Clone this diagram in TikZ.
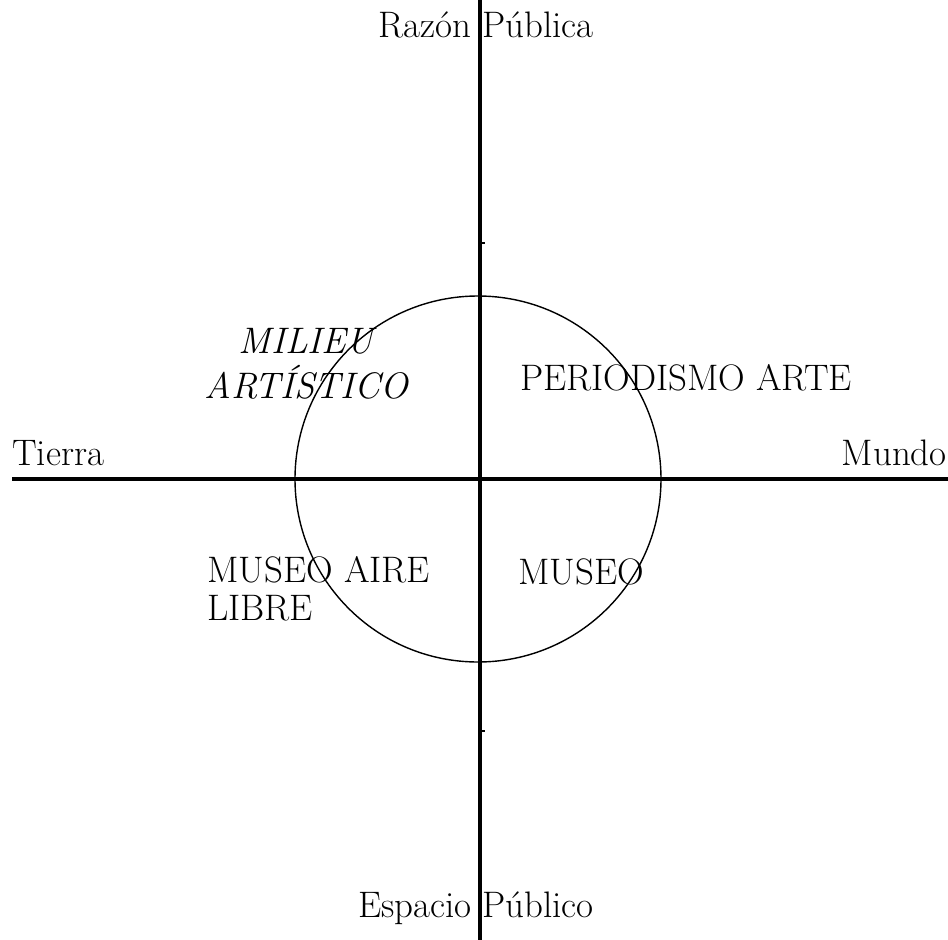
\documentclass[tikz,border=0pt]{standalone}
\begin{document}
\begin{tikzpicture}[x=0.02cm, y=-0.02cm,
    lbl/.style={font=\fontsize{21}{25}\selectfont, inner sep=0pt, anchor=base}]
    \useasboundingbox (0,0) rectangle (948,940);
    % Assen
    \coordinate (top) at (480,0);
    \coordinate (bottom) at (480,940);
    \coordinate (left) at (12,479);
    \coordinate (right) at (948,479);
    \draw[line width=2.8pt] (top) -- (bottom);
    \draw[line width=2.2pt] (left) -- (right);
    \draw[line width=1pt] (481,243) -- (485,243);
    \draw[line width=1pt] (481,731) -- (485,731);

    % Cirkel
    \coordinate (mid) at (478,479);
    \draw[line width=0.8pt] (mid) circle[radius=183];

    % Pooltjes
    \node[lbl] (razon) at (486,37) {Razón Pública};
    \node[lbl] (espacio) at (476,917) {Espacio Público};
    \node[lbl, anchor=base west] (tierra) at (12,465) {Tierra};
    \node[lbl, anchor=base east] (mundo) at (947,465) {Mundo};

    % Kwadranten
    \node[lbl, font=\fontsize{21}{25}\selectfont\itshape] (milieu) at (306,353) {MILIEU};
    \node[lbl, font=\fontsize{21}{25}\selectfont\itshape] (artistico) at (306,398) {ARTÍSTICO};
    \node[lbl] (periodismo) at (686,390) {PERIODISMO ARTE};
    \node[lbl, anchor=base west] (aire) at (207,582) {MUSEO AIRE};
    \node[lbl, anchor=base west] (libre) at (207,620) {LIBRE};
    \node[lbl] (museo) at (581,584) {MUSEO};
\end{tikzpicture}
\end{document}
